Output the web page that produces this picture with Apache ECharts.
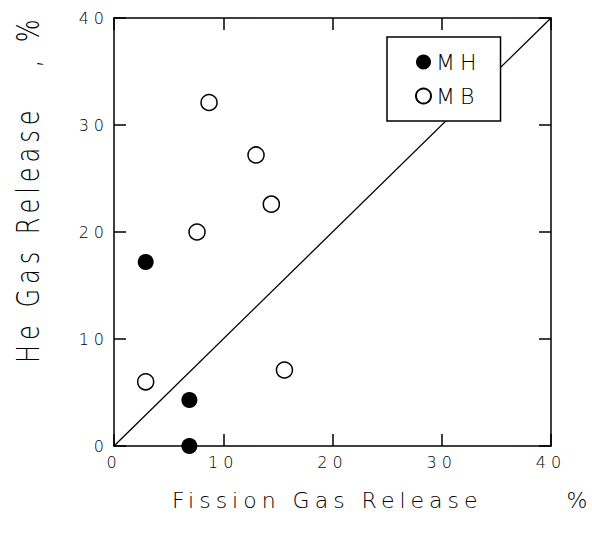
<!DOCTYPE html>
<html><head><meta charset="utf-8">
<script src="https://cdn.jsdelivr.net/npm/echarts@6/dist/echarts.min.js"></script>
<style>
html,body{margin:0;padding:0;background:#fff;}
#c{width:592px;height:534px;}
svg text{letter-spacing:5px;}
</style></head>
<body><div id="c"></div>
<script>
const xTicks = [0,10,20,30,40];
const yTicks = [0,10,20,30,40];
const mhX = [2.9, 6.9, 6.9];
const mhY = [17.2, 4.3, 0.0];
const mbX = [8.7, 13.0, 14.4, 7.6, 2.9, 15.6];
const mbY = [32.1, 27.2, 22.6, 20.0, 6.0, 7.1];
const diagX = [0, 40];
const diagY = [0, 40];
const zip = (a,b)=>a.map((v,i)=>[v,b[i]]);

const chart = echarts.init(document.getElementById('c'), null, {renderer:'svg'});
const F = 'DejaVu Sans';
function axis(ticks, position, showLabel){
  return {
    type:'value', position:position,
    min:ticks[0], max:ticks[ticks.length-1], interval:10,
    splitLine:{show:false},
    axisLine:{show:true, onZero:false, lineStyle:{color:'#000', width:1.5}},
    axisTick:{show:true, inside:true, length:12, lineStyle:{color:'#000', width:1.5}},
    axisLabel: showLabel
      ? {show:true, color:'#000', fontFamily:F, fontWeight:200, fontSize:16,
         margin:(position==='left'?5:8), formatter:v=>String(v)}
      : {show:false}
  };
}
chart.setOption({
  animation:false,
  backgroundColor:'#fff',
  grid:{left:114, right:41, top:18, bottom:88, containLabel:false},
  xAxis:[ axis(xTicks,'bottom',true), axis(xTicks,'top',false) ],
  yAxis:[ axis(yTicks,'left',true), axis(yTicks,'right',false) ],
  legend:{
    left:387, top:37, orient:'vertical',
    data:['MH','MB'],
    itemWidth:15, itemHeight:15, itemGap:12,
    padding:[14,29,14,28],
    borderColor:'#000', borderWidth:1.5, borderRadius:0,
    backgroundColor:'#fff',
    textStyle:{color:'#000', fontFamily:F, fontWeight:200, fontSize:22, padding:[0,0,0,0]},
    selectedMode:false
  },
  series:[
    {type:'line', name:'diag', data:zip(diagX, diagY), xAxisIndex:0, yAxisIndex:0,
     showSymbol:false, symbol:'none', lineStyle:{color:'#000', width:1.3}, z:1, silent:true},
    {type:'scatter', name:'MH', data:zip(mhX, mhY), symbol:'circle', symbolSize:16,
     itemStyle:{color:'#000', opacity:1}, z:3},
    {type:'scatter', name:'MB', data:zip(mbX, mbY), symbol:'circle', symbolSize:16,
     itemStyle:{color:'#fff', borderColor:'#000', borderWidth:1.5, opacity:1}, z:3}
  ],
  graphic:[
    {type:'text', left:172, top:489, style:{text:'Fission Gas Release       %', font:'200 22px "DejaVu Sans"', fill:'#000'}},
    {type:'text', x:12, y:363, rotation:Math.PI/2, scaleY:1.35,
     style:{text:'He Gas Release   , %', font:'200 24px "DejaVu Sans"', fill:'#000', textAlign:'left', textVerticalAlign:'top'}}
  ]
});
</script></body></html>
